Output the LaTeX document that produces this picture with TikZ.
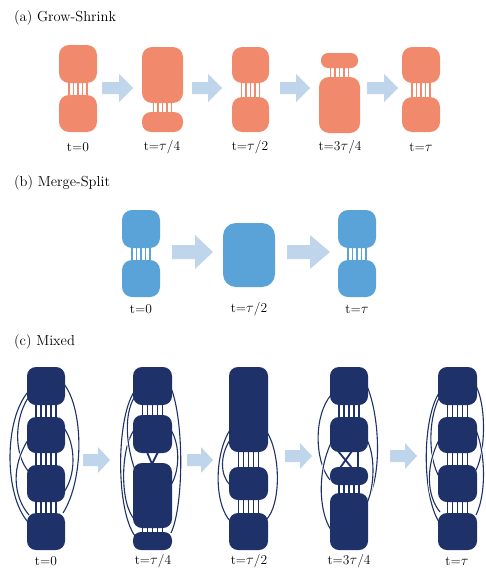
\documentclass[tikz,border=0pt]{standalone}
\usepackage{tikz}
\definecolor{salmon}{RGB}{241,138,108}
\definecolor{blueB}{RGB}{90,163,216}
\definecolor{navy}{RGB}{30,50,105}
\definecolor{arr}{RGB}{190,213,236}
\tikzset{
  title/.style={anchor=west, inner sep=0pt, font=\fontsize{14.5}{16}\selectfont},
  lab/.style={inner sep=0pt, font=\fontsize{13.5}{15}\selectfont},
  curve/.style={draw=navy, line width=1.1pt, preaction={draw=white, line width=2.8pt}},
  lnk/.style={line width=1.8pt},
}
\newcommand{\blob}[6]{\fill[#1, rounded corners=#6] (#2,#3) rectangle (#4,#5);}
\newcommand{\links}[5]{\foreach \dx in {-#5,-#5/2,0,#5/2,#5} {\draw[lnk,#1] (#2+\dx,#3) -- (#2+\dx,#4);}}
\newcommand{\barrow}[6]{\fill[arr] (#1,#3-#5) -- (#2,#3-#5) -- (#2,#3-#6) -- (#4,#3) -- (#2,#3+#6) -- (#2,#3+#5) -- (#1,#3+#5) -- cycle;}
\begin{document}
\begin{tikzpicture}[x=1pt,y=-1pt]
\useasboundingbox (0,0) rectangle (485,570);
\clip (0,0) rectangle (485,570);
% ---------------- (a)
\node[title] (ta) at (14,18) {(a) Grow-Shrink};
\links{salmon}{78}{82}{96}{9}
\blob{salmon}{59}{45}{97}{83}{10}
\blob{salmon}{59}{95}{97}{132}{10}
\barrow{102}{119}{88}{133}{6}{14}
\links{salmon}{162.5}{102}{113}{9}
\blob{salmon}{142}{47}{183}{103}{10}
\blob{salmon}{142}{112}{183}{132}{9}
\barrow{192}{208}{88}{222}{6}{14}
\links{salmon}{250.5}{82}{98}{9}
\blob{salmon}{232}{47}{269}{83}{10}
\blob{salmon}{232}{97}{269}{132}{10}
\barrow{280}{296}{88}{310}{6}{14}
\links{salmon}{339.5}{67}{78}{9}
\blob{salmon}{321}{53}{358}{68}{7}
\blob{salmon}{319}{77}{360}{133}{10}
\barrow{367}{384}{88}{398}{6}{14}
\links{salmon}{421}{82}{98}{9}
\blob{salmon}{402}{47}{440}{83}{10}
\blob{salmon}{402}{97}{440}{132}{10}
\node[lab] (la0) at (78,147) {t=0};
\node[lab] (la1) at (162,147) {t=$\tau$/4};
\node[lab] (la2) at (250,147) {t=$\tau$/2};
\node[lab] (la3) at (340,147) {t=3$\tau$/4};
\node[lab] (la4) at (421,147) {t=$\tau$};
% ---------------- (b)
\node[title] (tb) at (14,183) {(b) Merge-Split};
\links{blueB}{141}{247}{261}{9}
\blob{blueB}{122}{210}{160}{248}{10}
\blob{blueB}{122}{260}{160}{297}{10}
\barrow{172}{195}{252}{213}{7}{17}
\blob{blueB}{223}{223}{275}{287}{13}
\barrow{287}{310}{252}{330}{7}{17}
\links{blueB}{357}{247}{261}{9}
\blob{blueB}{338}{210}{376}{248}{10}
\blob{blueB}{338}{260}{376}{297}{10}
\node[lab] (lb0) at (141,309) {t=0};
\node[lab] (lb1) at (249,309) {t=$\tau$/2};
\node[lab] (lb2) at (357,309) {t=$\tau$};
% ---------------- (c)
\node[title] (tc) at (14,342) {(c) Mixed};
% t=0
\draw[curve] (28,392) .. controls (4,420) and (4,495) .. (28,522);
\draw[curve] (28,398) .. controls (14,420) and (14,455) .. (29,472);
\draw[curve] (28,440) .. controls (12,465) and (12,495) .. (29,515);
\draw[curve] (64,384) .. controls (84,410) and (84,480) .. (63,513);
\draw[curve] (64,428) .. controls (76,445) and (76,475) .. (64,492);
\links{navy}{46}{404}{418}{10}
\links{navy}{46}{452}{466}{10}
\links{navy}{46}{501}{514}{10}
\blob{navy}{27}{367}{65}{405}{9}
\blob{navy}{27}{417}{65}{453}{9}
\blob{navy}{27}{465}{65}{502}{9}
\blob{navy}{27}{513}{65}{550}{9}
\barrow{83}{98}{460}{110}{6}{13}
% t=tau/4
\draw[curve] (134,392) .. controls (116,420) and (116,510) .. (135,536);
\draw[curve] (134,430) .. controls (120,450) and (120,505) .. (135,520);
\draw[curve] (134,398) .. controls (124,415) and (126,445) .. (135,470);
\draw[curve] (171,388) .. controls (184,420) and (184,505) .. (171,533);
\draw[curve] (171,430) .. controls (180,445) and (180,470) .. (171,485);
\links{navy}{152.5}{404}{416}{10}
\links{navy}{152.5}{527}{533}{10}
\draw[lnk,navy] (147,452) -- (152,464);
\draw[lnk,navy] (158,452) -- (152,464);
\blob{navy}{133}{367}{172}{405}{9}
\blob{navy}{133}{415}{172}{453}{9}
\blob{navy}{133}{463}{172}{528}{9}
\blob{navy}{133}{532}{172}{550}{8}
\barrow{187}{201}{460}{213}{6}{13}
% t=tau/2
\draw[curve] (230,430) .. controls (214,455) and (214,505) .. (231,522);
\draw[curve] (230,440) .. controls (220,455) and (220,475) .. (230,485);
\draw[curve] (267,432) .. controls (281,455) and (281,505) .. (266,520);
\links{navy}{248.5}{451}{468}{10}
\links{navy}{248.5}{499}{514}{10}
\blob{navy}{229}{367}{268}{452}{9}
\blob{navy}{229}{467}{268}{500}{9}
\blob{navy}{229}{513}{268}{550}{9}
\barrow{285}{300}{456}{312}{6}{13}
% t=3tau/4
\draw[curve] (331,395) .. controls (314,415) and (314,460) .. (330,480);
\draw[curve] (331,443) .. controls (318,470) and (318,510) .. (331,530);
\draw[curve] (367,386) .. controls (381,420) and (381,480) .. (367,500);
\draw[curve] (367,440) .. controls (375,455) and (375,485) .. (367,503);
\links{navy}{349}{404}{418}{10}
\links{navy}{349}{484}{494}{10}
\draw[lnk,navy] (338,451) -- (352,468);
\draw[lnk,navy] (352,451) -- (340,468);
\draw[lnk,navy] (358,451) -- (358,468);
\blob{navy}{330}{367}{368}{405}{9}
\blob{navy}{330}{417}{368}{452}{9}
\blob{navy}{330}{467}{368}{485}{8}
\blob{navy}{330}{493}{368}{550}{9}
\barrow{390}{405}{456}{417}{6}{13}
% t=tau
\draw[curve] (439,393) .. controls (422,420) and (422,495) .. (439,522);
\draw[curve] (439,398) .. controls (428,420) and (428,460) .. (440,478);
\draw[curve] (439,440) .. controls (426,465) and (426,495) .. (440,512);
\draw[curve] (476,386) .. controls (486,405) and (486,450) .. (476,470);
\draw[curve] (476,430) .. controls (486,455) and (486,495) .. (476,515);
\links{navy}{457.5}{404}{418}{10}
\links{navy}{457.5}{452}{466}{10}
\links{navy}{457.5}{501}{514}{10}
\blob{navy}{438}{367}{477}{405}{9}
\blob{navy}{438}{417}{477}{453}{9}
\blob{navy}{438}{465}{477}{502}{9}
\blob{navy}{438}{513}{477}{550}{9}
\node[lab] (lc0) at (46,561) {t=0};
\node[lab] (lc1) at (153,561) {t=$\tau$/4};
\node[lab] (lc2) at (249,561) {t=$\tau$/2};
\node[lab] (lc3) at (349,561) {t=3$\tau$/4};
\node[lab] (lc4) at (457,561) {t=$\tau$};
\end{tikzpicture}
\end{document}
